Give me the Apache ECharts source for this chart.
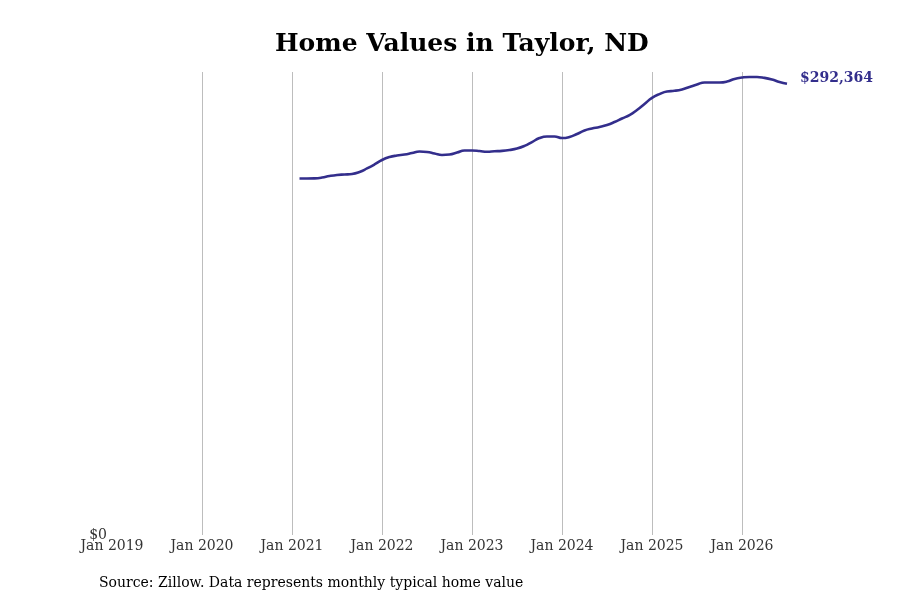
<!DOCTYPE html>
<html>
<head>
<meta charset="utf-8">
<script src="https://cdn.jsdelivr.net/npm/echarts@6/dist/echarts.min.js"></script>
<style>
html,body{margin:0;padding:0;background:#fff;}
#chart{width:900px;height:600px;}
</style>
</head>
<body>
<div id="chart"></div>
<script>
// Month-end dates of the series (first and last month)
var startMonth = "2021-01";
var endMonth = "2026-06";
// Typical home values (USD), one per month from startMonth to endMonth
var homeValues = [
  231000, 231000, 231100, 231600, 232600, 233300, 233600, 233900, 235200, 237500, 240100, 243000,
  244900, 245900, 246500, 247500, 248500, 248200, 247200, 246200, 246500, 247800, 249100, 249100,
  248800, 248300, 248600, 248900, 249500, 250400, 252100, 254600, 257200, 258200, 258200, 257200,
  257900, 259800, 262100, 263400, 264400, 265700, 267600, 269900, 272100, 275400, 279300, 283200,
  285700, 287400, 287800, 288700, 290300, 291900, 293200, 293200, 293200, 293800, 295500, 296400,
  296800, 296800, 296200, 295100, 293500, 292364
];
var tickYears = [2019, 2020, 2021, 2022, 2023, 2024, 2025, 2026];
var titleText = "Home Values in Taylor, ND";
var sourceText = "Source: Zillow. Data represents monthly typical home value";

var sy = parseInt(startMonth.slice(0,4),10), sm = parseInt(startMonth.slice(5,7),10);
// month-end position expressed in fractional years
var seriesData = homeValues.map(function(v, i){
  var m = (sm - 1) + i + 1; // months elapsed at end of month
  return [sy + m / 12, v];
});

var chart = echarts.init(document.getElementById('chart'));
chart.setOption({
  backgroundColor: '#ffffff',
  animation: false,
  title: {
    text: titleText,
    left: 270, top: 27,
    textStyle: {fontFamily: 'DejaVu Serif', fontWeight: 'bold', fontSize: 25, color: '#000'}
  },
  graphic: [{
    type: 'text', left: 99, top: 576,
    style: {text: sourceText, font: '14px "DejaVu Serif"', fill: '#000'}
  }],
  grid: {left: 112, right: 113, top: 72, bottom: 65},
  xAxis: {
    type: 'value',
    min: tickYears[0], max: 2026.5, interval: 1,
    axisLine: {show: false}, axisTick: {show: false},
    splitLine: {show: true, showMinLine: false, showMaxLine: false, lineStyle: {color: '#bdbdbd', width: 1}},
    axisLabel: {
      margin: 4, fontFamily: 'DejaVu Serif', fontSize: 14, color: '#333',
      formatter: function(v){ return (tickYears.indexOf(v) >= 0) ? 'Jan ' + v : ''; }
    }
  },
  yAxis: {
    type: 'value', min: 0, max: 300000, interval: 100000,
    axisLine: {show: false}, axisTick: {show: false},
    splitLine: {show: false},
    axisLabel: {
      margin: 5, fontFamily: 'DejaVu Serif', fontSize: 14, color: '#333',
      formatter: function(v){ return v === 0 ? '$0' : ''; }
    }
  },
  series: [{
    type: 'line',
    data: seriesData,
    smooth: true,
    showSymbol: false,
    lineStyle: {color: '#332e8c', width: 2.6},
    endLabel: {
      show: true, distance: 13, offset: [0, -5],
      formatter: function(p){ return '$' + p.value[1].toLocaleString('en-US'); },
      fontFamily: 'DejaVu Serif', fontWeight: 'bold', fontSize: 14, color: '#332e8c'
    }
  }]
});
</script>
</body>
</html>
